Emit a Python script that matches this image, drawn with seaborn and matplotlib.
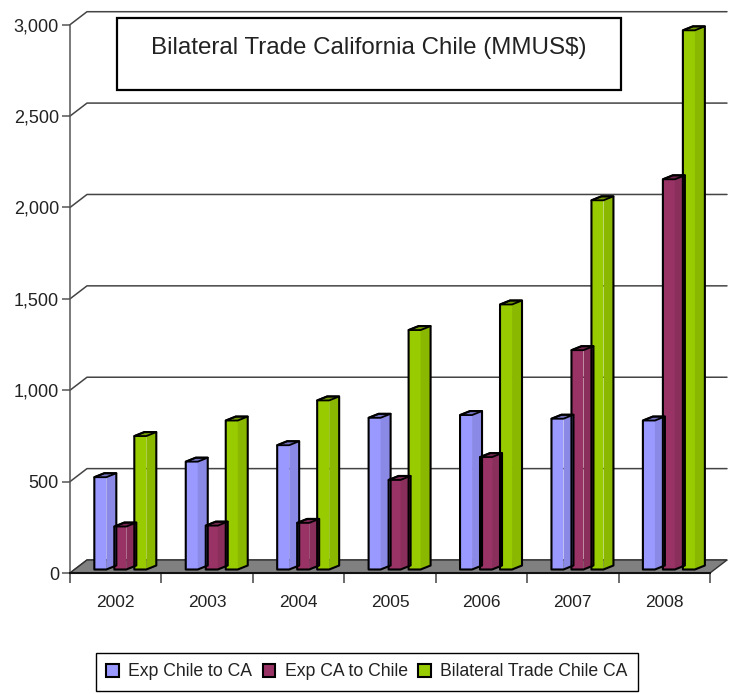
import matplotlib
matplotlib.use('Agg')
import matplotlib.pyplot as plt
import numpy as np
import pandas as pd
import seaborn as sns
from matplotlib.patches import Polygon, Rectangle

# Values
YEARS = ['2002', '2003', '2004', '2005', '2006', '2007', '2008']
EXP_CHILE_CA = [505, 590, 680, 830, 845, 825, 815]
EXP_CA_CHILE = [235, 240, 255, 490, 615, 1200, 2135]
BILATERAL = [730, 815, 925, 1310, 1450, 2020, 2950]
SERIES = ['Exp Chile to CA', 'Exp CA to Chile', 'Bilateral Trade Chile CA']
TITLE = 'Bilateral Trade California Chile (MMUS$)'

FRONT = ['#9999FF', '#993366', '#99CC00']
SIDE = ['#8A8AE6', '#8A2E5C', '#8AB800']
TOP = ['#7373BF', '#732650', '#739900']

W, H = 731, 694
AX_L, AX_R, AX_T, AX_B = 70, 710, 24.7, 573
PX_X = (AX_R - AX_L) / 7      # pixels per category
PX_Y = (AX_B - AX_T) / 3000   # pixels per unit


def main():
    df = pd.DataFrame({'year': YEARS, SERIES[0]: EXP_CHILE_CA,
                       SERIES[1]: EXP_CA_CHILE, SERIES[2]: BILATERAL})
    df = df.melt(id_vars='year', var_name='series', value_name='value')

    sns.set_theme(style='white')
    plt.rcParams['font.family'] = ['Liberation Sans', 'DejaVu Sans']
    plt.rcParams['text.color'] = '#222222'

    fig = plt.figure(figsize=(W / 100, H / 100), dpi=100, facecolor='white')
    ax = fig.add_axes([AX_L / W, 1 - AX_B / H, (AX_R - AX_L) / W, (AX_B - AX_T) / H])

    sns.barplot(data=df, x='year', y='value', hue='series', hue_order=SERIES,
                palette=FRONT, width=0.656, gap=0.40, dodge=True,
                edgecolor='black', linewidth=1.5, saturation=1, ax=ax, zorder=3)

    ax.set_xlim(-0.5, 6.5)
    ax.set_ylim(0, 3000)

    # back wall and floor, depth of the 3d box in data units
    back_x = 17 / PX_X
    back_y = 13 / PX_Y
    for v in range(0, 3001, 500):
        ax.plot([-0.5, -0.5 + back_x, 6.5 + back_x], [v, v + back_y, v + back_y],
                color='#444444', lw=1.1, clip_on=False, zorder=1)
    ax.add_patch(Polygon([[-0.5, 0], [-0.5 + back_x, back_y], [6.5 + back_x, back_y], [6.5, 0]],
                         facecolor='#808080', edgecolor='#333333', lw=1,
                         clip_on=False, zorder=2))

    # turn the flat bars into 3d columns
    dx = 10 / PX_X
    dy = 4 / PX_Y
    shift = 4.6 / PX_X
    base = 3.5 / PX_Y
    for container, side, top in zip(ax.containers, SIDE, TOP):
        for bar in container:
            bar.set_x(bar.get_x() + shift)
            height = bar.get_height()
            bar.set_y(base)
            bar.set_edgecolor('none')
            bar.set_clip_on(False)
            x0, x1 = bar.get_x(), bar.get_x() + bar.get_width()
            y0, y1 = base, base + height
            z = bar.get_zorder()
            ax.add_patch(Polygon([[x1, y0], [x1 + dx, y0 + dy], [x1 + dx, y1 + dy], [x1, y1]],
                                 facecolor=side, edgecolor='none', clip_on=False, zorder=z))
            ax.add_patch(Polygon([[x0, y1], [x1, y1], [x1 + dx, y1 + dy], [x0 + dx, y1 + dy]],
                                 facecolor=top, edgecolor='black', lw=1.3,
                                 joinstyle='round', clip_on=False, zorder=z))
            # outline of the whole column, no line between front and side
            ax.add_patch(Polygon([[x0, y0], [x1, y0], [x1 + dx, y0 + dy], [x1 + dx, y1 + dy],
                                  [x0 + dx, y1 + dy], [x0, y1]],
                                 facecolor='none', edgecolor='black', lw=1.5,
                                 joinstyle='round', clip_on=False, zorder=z))

    sns.despine(ax=ax)
    ax.spines['left'].set_color('#555555')
    ax.spines['left'].set_linewidth(1.1)
    ax.spines['bottom'].set_color('#111111')
    ax.spines['bottom'].set_linewidth(1.5)
    ax.spines['bottom'].set_zorder(2.5)

    ax.set_xlabel('')
    ax.set_ylabel('')
    ax.set_yticks(range(0, 3001, 500))
    ax.set_yticklabels([f'{v:,}' for v in range(0, 3001, 500)])
    ax.set_xticks(np.arange(-0.5, 7, 1), minor=True)
    ax.tick_params(axis='y', length=6, width=1.1, color='#555555', pad=2,
                   left=True, labelsize=13, labelcolor='#222222')
    ax.tick_params(axis='x', which='major', length=0, pad=16, labelsize=12.5, labelcolor='#222222')
    ax.tick_params(axis='x', which='minor', length=7, width=1.1, color='#444444', bottom=True)

    # title box
    fig.patches.append(Rectangle((117 / W, 1 - 90 / H), 504 / W, 72.5 / H, transform=fig.transFigure,
                                 facecolor='white', edgecolor='black', lw=1.6, zorder=5))
    fig.text(369 / W, 1 - 48 / H, TITLE, ha='center', va='center', fontsize=17.4, color='#222222', zorder=6)

    # legend
    sns.move_legend(ax, loc='center', bbox_to_anchor=(367 / W, 1 - 672 / H),
                    bbox_transform=fig.transFigure, ncol=3, title=None, frameon=True,
                    fancybox=False, framealpha=1, edgecolor='black', fontsize=12.7,
                    handlelength=0.7, handleheight=0.7, handletextpad=0.55,
                    columnspacing=0.6, borderpad=0.6)
    leg = ax.get_legend()
    leg.get_frame().set_linewidth(1.0)
    for text in leg.get_texts():
        text.set_color('#222222')

    fig.savefig('out.png', dpi=100, facecolor='white')


if __name__ == '__main__':
    main()
